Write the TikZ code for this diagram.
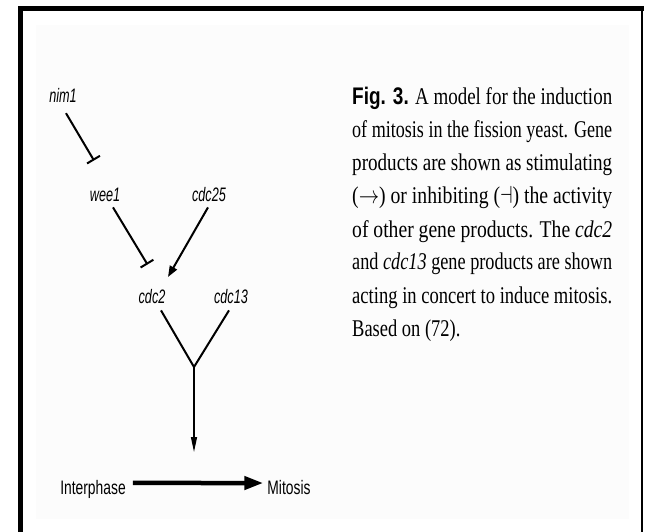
\documentclass[tikz,border=0pt]{standalone}
\usepackage{fontspec}
\setmainfont{Liberation Serif}
\newfontfamily\hv{Liberation Sans}
\usetikzlibrary{arrows.meta}
\newcommand\gl[1]{\scalebox{0.65}[1]{\hv\itshape #1}}
\newcommand\ph[1]{\scalebox{0.71}[1]{\hv #1}}
\newcommand\capl[1]{\resizebox{260bp}{\height}{#1}}
\definecolor{paper}{RGB}{252,252,252}
\begin{document}
\begin{tikzpicture}[x=1bp,y=-1bp,
  gene/.style={inner sep=0pt, anchor=base, font=\fontsize{19.5bp}{19.5bp}\selectfont},
  capt/.style={inner sep=0pt, anchor=base west, font=\fontsize{24bp}{24bp}\selectfont},
  ln/.style={line width=2bp},
  inh/.style={line width=2bp, -{Bar[width=15bp,line width=2bp]}},
  act/.style={line width=2bp, -{Triangle[length=11bp,width=8bp]}},
  vert/.style={line width=1.3bp, -{Triangle[length=15bp,width=6bp]}},
  big/.style={line width=4.5bp, -{Triangle[length=19bp,width=13bp]}}]
\useasboundingbox (0,0) rectangle (645,532);
% page background and frame
\fill[paper] (36,25) rectangle (629,519);
\draw[line width=5bp] (20.5,532) -- (20.5,8.5) -- (644,8.5);
\draw[line width=2bp] (642,8.5) -- (642,532);
% gene labels
\node[gene] (nim1) at (63,103) {\gl{nim1}};
\node[gene] (wee1) at (105,202) {\gl{wee1}};
\node[gene] (cdc25) at (209,202) {\gl{cdc25}};
\node[gene] (cdc2) at (152,303) {\gl{cdc2}};
\node[gene] (cdc13) at (231,303) {\gl{cdc13}};
\node[gene] (inter) at (93,494) {\ph{Interphase}};
\node[gene] (mit) at (289,494) {\ph{Mitosis}};
% target points
\coordinate (b1) at (94,160.5);
\coordinate (b2) at (147.5,264.5);
\coordinate (t3) at (168,277);
\coordinate (j) at (194,367);
\coordinate (t4) at (194,452);
% connectors
\draw[inh] ([shift={(3,10)}]nim1.south) -- (b1);
\draw[inh] ([shift={(8,5)}]wee1.south) -- (b2);
\draw[act] ([shift={(-1,5)}]cdc25.south) -- (t3);
\draw[ln, line join=miter] ([shift={(9,7)}]cdc2.south) -- (j) -- ([shift={(-2,7)}]cdc13.south);
\draw[vert] (j) -- (t4);
\draw[big] ([shift={(7,-6)}]inter.east) -- ([shift={(-4,-4)}]mit.west);
% caption
\node[capt] (c1) at (352,105) {\capl{{\hv\bfseries Fig. 3.} A model for the induction}};
\node[capt] (c2) at (352,138) {\capl{of mitosis in the fission yeast. Gene}};
\node[capt] (c3) at (352,171) {\capl{products are shown as stimulating}};
\node[capt] (c4) at (352,204) {\capl{(\hbox{$\rightarrow$}) or inhibiting (\hbox{$\dashv$}) the activity}};
\node[capt] (c5) at (352,237) {\capl{of other gene products. The \textit{cdc2}}};
\node[capt] (c6) at (352,270) {\capl{and \textit{cdc13} gene products are shown}};
\node[capt] (c7) at (352,303) {\capl{acting in concert to induce mitosis.}};
\node[capt] (c8) at (352,336) {\scalebox{0.77}[1]{Based on (72).}};
\end{tikzpicture}
\end{document}
